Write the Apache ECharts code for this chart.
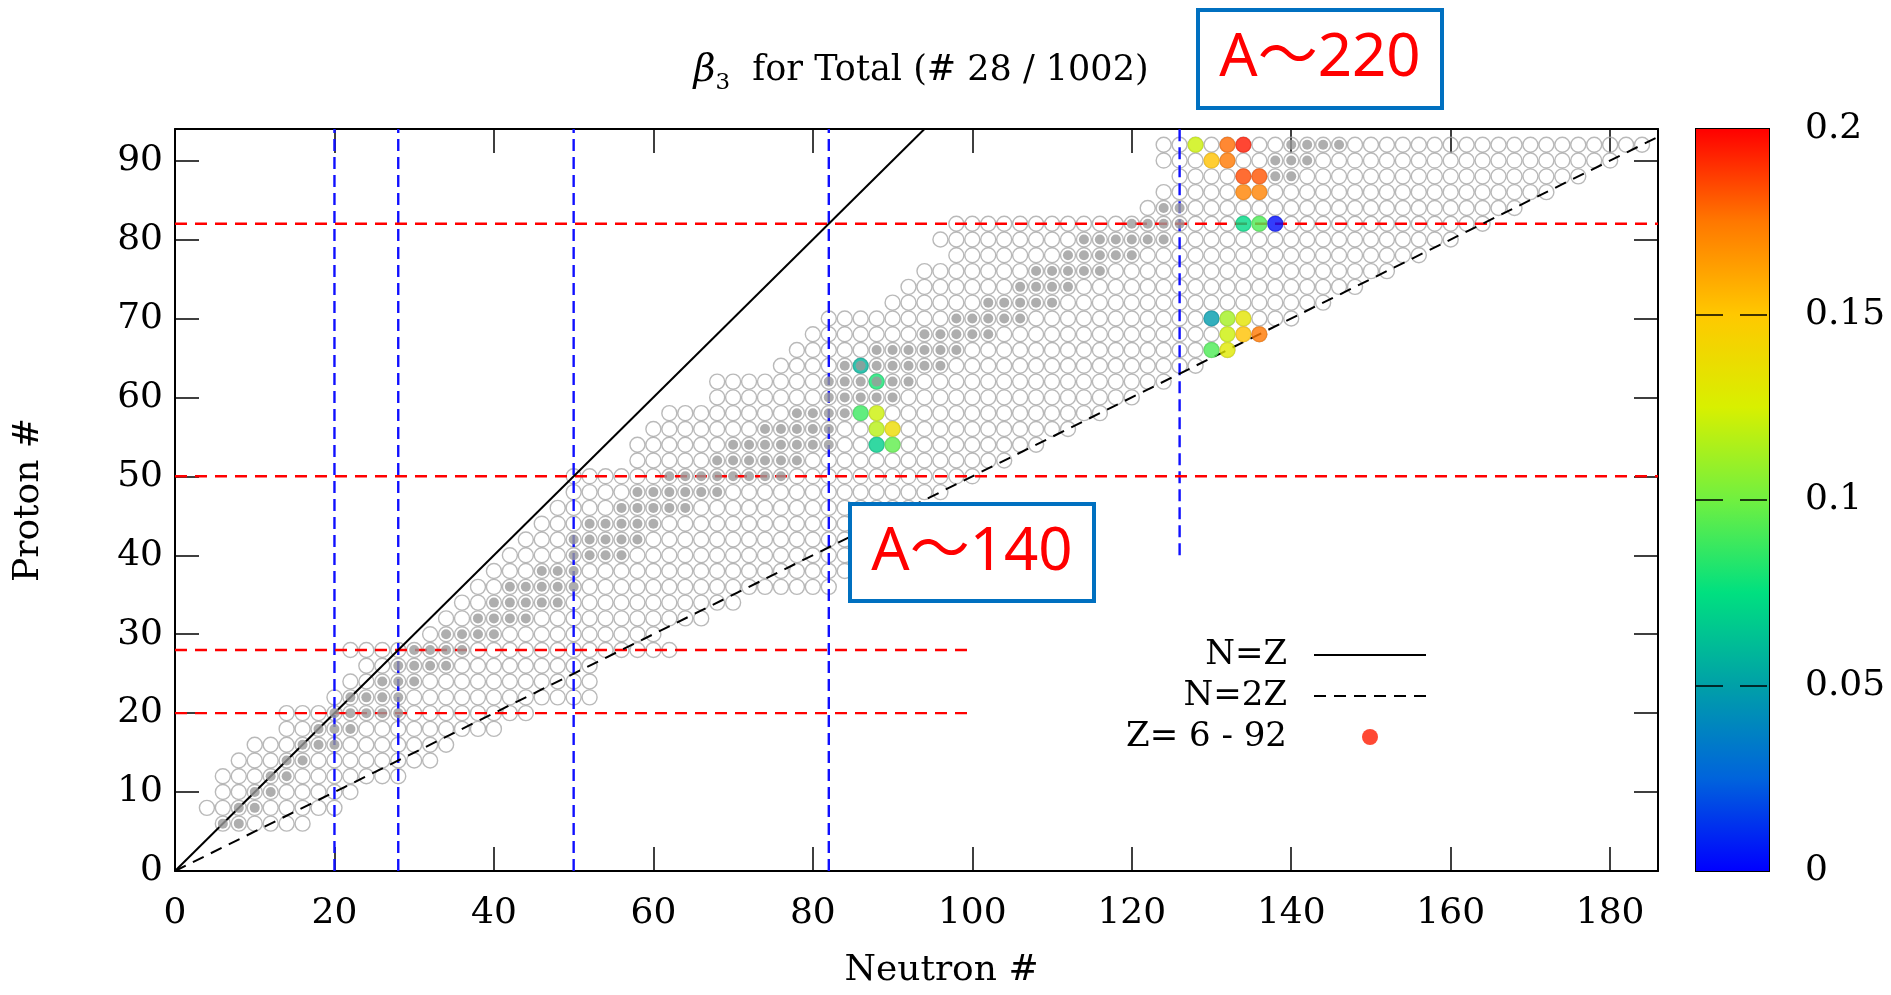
<!DOCTYPE html>
<html><head><meta charset="utf-8">
<script src="https://cdn.jsdelivr.net/npm/echarts@6/dist/echarts.min.js"></script>
<style>html,body{margin:0;padding:0;background:#fff}#c{width:1891px;height:995px}</style>
</head><body><div id="c"></div>
<script>
// ---- data ----
const zList = [6,8,10,12,14,16,18,20,22,24,26,28,30,32,34,36,38,40,42,44,46,48,50,52,54,56,58,60,62,64,66,68,70,72,74,76,78,80,82,84,86,88,90,92];
// neutron range of calculated even-even nuclei (open circles) per Z
const nMin = [6,4,6,6,8,10,14,14,20,22,24,22,32,34,36,38,40,42,44,46,48,50,50,58,58,60,62,68,68,76,78,80,82,90,92,94,98,96,98,122,124,126,124,124];
const nMax = [16,20,22,28,32,34,40,44,52,52,52,62,60,66,70,82,84,86,88,90,92,96,100,104,108,112,116,120,124,128,132,136,140,144,148,152,156,160,164,168,172,176,180,184];
// stable / long-lived nuclei (filled grey) per Z
const fillMin = [6,8,10,12,14,16,18,20,22,26,28,30,34,38,40,42,46,50,50,52,56,58,62,68,70,74,78,82,82,84,88,94,98,102,106,108,112,114,120,124,null,138,138,140];
const fillMax = [8,10,12,14,16,20,22,28,28,30,34,36,40,44,48,50,50,56,58,60,64,68,76,78,82,82,84,90,92,96,98,102,106,110,112,116,120,124,126,126,null,140,142,146];
// nuclei with non-zero beta3
const betaN = [128,132,134,130,132,134,136,134,136,134,136,138,130,132,134,132,134,136,130,132,86,88,86,88,88,90,88,90];
const betaZ = [92,92,92,90,90,88,88,86,86,82,82,82,70,70,70,68,68,68,66,66,64,62,58,58,56,56,54,54];
const betaVal = [0.122,0.178,0.195,0.152,0.175,0.185,0.183,0.172,0.172,0.072,0.092,0.003,0.048,0.112,0.133,0.122,0.152,0.175,0.092,0.130,0.058,0.080,0.088,0.122,0.117,0.138,0.068,0.096];
// magic numbers
const magicN = [20,28,50,82,126];
const magicNFromZ = [0,0,0,0,40];
const magicZ = [20,28,50,82];
const magicZToN = [100,100,186,186];
// colour scale
const colorStops = ['#0000ff','#0064dc','#00a0a8','#00e080','#70f040','#d8f000','#ffc800','#ff7800','#ff0000'];
const xMax = 186, yMax = 94;

// ---- build ----
const hollowData = [], fillData = [], betaData = [];
zList.forEach((z,i)=>{
  for (let n=nMin[i]; n<=nMax[i]; n+=2) hollowData.push([n,z]);
  if (fillMin[i]!=null) for (let n=fillMin[i]; n<=fillMax[i]; n+=2) fillData.push([n,z]);
});
betaN.forEach((n,i)=>betaData.push([n,betaZ[i],betaVal[i]]));

const SERIF = 'DejaVu Serif';
const series = [];
series.push({type:'scatter', name:'nuclei', data:hollowData, symbolSize:15, silent:true, z:2,
  itemStyle:{color:'rgba(255,255,255,0)', borderColor:'#a8a8a8', borderWidth:1.4}});
magicN.forEach((n,i)=>series.push({type:'line', data:[[n,magicNFromZ[i]],[n,yMax]], symbol:'none', silent:true, z:3,
  lineStyle:{color:'#1010ff', width:2.4, type:[12,6]}}));
magicZ.forEach((z,i)=>series.push({type:'line', data:[[0,z],[magicZToN[i],z]], symbol:'none', silent:true, z:3,
  lineStyle:{color:'#ff0000', width:2.4, type:[12,8]}}));
series.push({type:'line', name:'N=Z', data:[[0,0],[yMax,yMax]], symbol:'none', silent:true, z:3,
  itemStyle:{color:'rgba(0,0,0,0)'}, lineStyle:{color:'#000', width:2}});
series.push({type:'line', name:'N=2Z', data:[[0,0],[2*yMax,yMax]], symbol:'none', silent:true, z:3,
  itemStyle:{color:'rgba(0,0,0,0)'}, lineStyle:{color:'#000', width:2, type:[12,8]}});
const betaIdx = series.length;
series.push({type:'scatter', name:'Z= 6 - 92', data:betaData, symbolSize:16, z:4,
  itemStyle:{color:'#ff1a00'}});
series.push({type:'scatter', name:'stable', data:fillData, symbolSize:10, silent:true, z:5,
  itemStyle:{color:'#9a9a9a'}});
// colour bar
series.push({type:'bar', xAxisIndex:2, yAxisIndex:2, data:[0.2], barWidth:'100%', silent:true,
  itemStyle:{color:new echarts.graphic.LinearGradient(0,1,0,0, colorStops.map((c,i)=>({offset:i/(colorStops.length-1), color:c})))},
  markLine:{silent:true, symbol:'none', label:{show:false},
    lineStyle:{color:'#000', width:1.5, type:[27,17]},
    data:[{yAxis:0.05},{yAxis:0.1},{yAxis:0.15}]}});

const tickLabel = {fontFamily:SERIF, fontSize:36, color:'#000'};
const axBase = {type:'value', splitLine:{show:false},
  axisLine:{show:true, onZero:false, lineStyle:{color:'#000', width:2}},
  axisTick:{show:true, inside:true, length:24, lineStyle:{color:'#000', width:1.5}}};

const option = {
  animation:false,
  backgroundColor:'#fff',
  title:{text:'{b|β}{s|3}  for Total (# 28 / 1002)', left:916, top:42, textAlign:'center',
    textStyle:{fontFamily:SERIF, fontSize:35, fontWeight:'normal', color:'#000', lineHeight:48,
      rich:{b:{fontFamily:SERIF, fontStyle:'italic', fontSize:38, lineHeight:48, color:'#000'},
            s:{fontFamily:SERIF, fontSize:23, verticalAlign:'bottom', color:'#000'}}}},
  legend:{orient:'vertical', right:464, top:637, padding:0, align:'right', itemWidth:112, itemHeight:16, itemGap:5,
    selectedMode:false,
    data:['N=Z','N=2Z',{name:'Z= 6 - 92', itemStyle:{color:'#ff1a00'}}],
    textStyle:{fontFamily:SERIF, fontSize:34, color:'#000', lineHeight:36, padding:[0,22,0,0]}},
  visualMap:{type:'continuous', show:false, seriesIndex:betaIdx, dimension:2, min:0, max:0.2, inRange:{color:colorStops}},
  grid:[
    {left:175, right:233, top:129, bottom:124, outerBoundsMode:'none'},
    {left:1696, width:73, top:129, bottom:124, outerBoundsMode:'none', show:true, borderColor:'#000', borderWidth:2}
  ],
  xAxis:[
    Object.assign({}, axBase, {gridIndex:0, position:'bottom', min:0, max:xMax, interval:20,
      axisLabel:Object.assign({margin:25, showMaxLabel:false}, tickLabel),
      name:'Neutron #', nameLocation:'middle', nameGap:82, nameMoveOverlap:false,
      nameTextStyle:Object.assign({padding:[0,0,0,50]}, tickLabel)}),
    Object.assign({}, axBase, {gridIndex:0, position:'top', min:0, max:xMax, interval:20, axisLabel:{show:false}}),
    {type:'category', gridIndex:1, data:['c'], show:false, boundaryGap:true}
  ],
  yAxis:[
    Object.assign({}, axBase, {gridIndex:0, position:'left', min:0, max:yMax, interval:10,
      axisLabel:Object.assign({margin:12, showMaxLabel:false}, tickLabel),
      name:'Proton #', nameLocation:'middle', nameGap:128, nameMoveOverlap:false, nameTextStyle:tickLabel}),
    Object.assign({}, axBase, {gridIndex:0, position:'right', min:0, max:yMax, interval:10, axisLabel:{show:false}}),
    {type:'value', gridIndex:1, position:'right', min:0, max:0.2, interval:0.05, splitLine:{show:false},
      axisLine:{show:false}, axisTick:{show:false},
      axisLabel:Object.assign({margin:36}, tickLabel)}
  ],
  graphic:[
    {type:'rect', z:100, shape:{x:1198, y:10, width:244, height:98}, style:{fill:'#fff', stroke:'#0070c0', lineWidth:4}},
    {type:'text', z:101, x:1320, y:59, style:{text:'A～220', fill:'#ff0000', font:'60px "Noto Sans", "Noto Sans CJK JP"', align:'center', verticalAlign:'middle'}},
    {type:'rect', z:100, shape:{x:850, y:504, width:244, height:97}, style:{fill:'#fff', stroke:'#0070c0', lineWidth:4}},
    {type:'text', z:101, x:972, y:553, style:{text:'A～140', fill:'#ff0000', font:'60px "Noto Sans", "Noto Sans CJK JP"', align:'center', verticalAlign:'middle'}}
  ],
  series:series
};
const chart = echarts.init(document.getElementById('c'), null, {renderer:'canvas'});
chart.setOption(option);
</script></body></html>
